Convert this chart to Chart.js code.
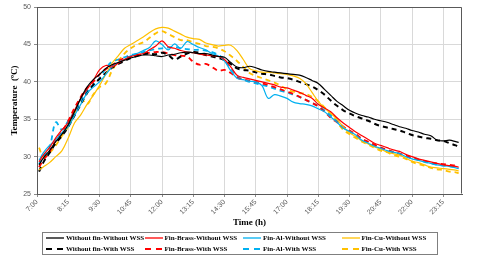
<!DOCTYPE html>
<html><head><meta charset="utf-8">
<script src="https://cdn.jsdelivr.net/npm/chart.js@4/dist/chart.umd.min.js"></script>
<style>
html,body{margin:0;padding:0;background:#fff;}
#wrap{position:relative;width:480px;height:259px;overflow:hidden;}
#c{position:absolute;left:0;top:0;}
#legendBox{position:absolute;left:42px;top:232px;width:396px;height:23px;border:1px solid #7f7f7f;box-sizing:border-box;}
.item{position:absolute;height:10px;display:flex;align-items:center;font:bold 7px "Liberation Serif",serif;white-space:nowrap;color:#000;}
.item svg{margin-right:2px;}
</style></head><body>
<div id="wrap"><canvas id="c" width="480" height="259"></canvas><div id="legendBox"></div></div>
<script>
// time of day in minutes after midnight
const TIMES = [425,435,450,465,480,495,510,525,540,555,570,585,600,615,630,645,660,675,690,705,720,735,750,765,780,795,810,825,840,855,870,885,900,915,930,945,960,975,990,1005,1020,1035,1050,1065,1080,1095,1110,1125,1140,1155,1170,1185,1200,1215,1230,1245,1260,1275,1290,1305,1320,1335,1350,1365,1380,1395,1410,1425,1432];

const TICK_VALUES = [420,495,570,645,720,795,870,945,1020,1095,1170,1245,1320,1395];
const TICK_LABELS = ["7:00","8:15","9:30","10:45","12:00","13:15","14:30","15:45","17:00","18:15","19:30","20:45","22:00","23:15"];

const NAMES = ["Without fin-Without WSS","Fin-Brass-Without WSS","Fin-Al-Without WSS","Fin-Cu-Without WSS",
               "Without fin-With WSS","Fin-Brass-With WSS","Fin-Al-With WSS","Fin-Cu-With WSS"];

const WITHOUT_FIN_WITHOUT_WSS = [28.9,29.8,30.8,32.0, 33.0,34.3,36.0,37.8, 39.3,40.3,41.0,41.8, 42.3,42.6,42.9,43.2,
 43.4,43.6,43.6,43.5, 43.4,43.6,43.7,43.9, 44.0,43.9,43.8,43.8, 43.6,43.4,43.3,42.6, 42.0,41.9,42.1,41.9,
 41.6,41.4,41.3,41.2, 41.1,41.0,40.9,40.6, 40.2,39.8,39.0,38.2, 37.4,36.8,36.2,35.8, 35.5,35.3,35.0,34.8,
 34.6,34.3,34.0,33.8, 33.5,33.3,33.0,32.8, 32.2,32.1,32.2,32.0, 31.9];
const WITHOUT_FIN_WITH_WSS = [28.0,29.2,30.5,31.8, 32.8,34.0,35.5,37.0, 38.5,39.6,40.4,41.2, 41.9,42.4,42.8,43.2,
 43.5,43.7,43.8,43.7, 43.9,43.6,43.0,43.4, 43.8,44.0,43.9,43.6, 43.4,43.2,42.9,42.4, 41.8,41.6,41.5,41.3,
 41.1,41.0,40.8,40.6, 40.5,40.3,40.0,39.7, 39.4,38.9,38.3,37.5, 36.8,36.2,35.8,35.4, 35.1,34.8,34.4,34.1,
 33.9,33.7,33.5,33.2, 32.9,32.7,32.5,32.4, 32.2,32.1,31.8,31.5, 31.3];
const BRASS_WITHOUT_WSS = [29.3,30.2,31.2,32.5, 33.6,34.6,36.2,37.8, 39.0,40.2,41.6,42.2, 42.0,42.5,43.0,43.4,
 43.6,43.8,44.3,44.8, 45.5,44.7,44.5,44.2, 44.0,43.9,43.7,43.6, 43.5,43.4,43.0,42.0, 40.9,40.6,40.4,40.2,
 40.0,39.8,39.6,39.3, 39.2,38.9,38.6,38.2, 37.8,37.0,36.5,36.0, 35.2,34.5,33.9,33.3, 32.8,32.3,31.8,31.5,
 31.2,30.9,30.7,30.3, 30.0,29.7,29.5,29.3, 29.1,28.9,28.8,28.7, 28.6];
const BRASS_WITH_WSS = [28.6,29.5,30.6,32.2, 33.3,34.8,36.5,38.0, 39.2,40.0,41.0,41.7, 42.2,42.8,43.2,43.4,
 43.6,43.8,43.9,44.0, 44.0,43.8,43.6,43.5, 43.4,42.7,42.3,42.4, 42.0,41.5,41.6,41.2, 40.6,40.3,40.2,40.0,
 39.8,39.6,39.3,39.0, 38.7,38.4,38.0,37.6, 37.2,36.7,36.0,35.2, 34.6,34.0,33.5,33.0, 32.4,32.0,31.6,31.2,
 30.9,30.6,30.4,30.1, 29.8,29.6,29.4,29.2, 29.1,29.0,28.9,28.8, 28.8];
const AL_WITHOUT_WSS = [29.5,30.5,31.5,32.3, 33.2,34.0,35.5,37.0, 38.5,39.3,40.0,41.0, 42.0,42.6,43.0,43.5,
 43.8,44.2,44.6,45.5, 45.0,44.3,45.1,44.5, 45.4,45.0,44.6,44.3, 43.8,43.5,42.8,41.5, 40.5,40.3,40.1,40.0,
 39.5,37.8,38.3,38.1, 37.8,37.3,37.1,37.0, 36.8,36.4,36.0,35.3, 34.6,33.8,33.4,32.9, 32.2,31.8,31.4,31.1,
 30.8,30.6,30.4,30.0, 29.7,29.5,29.3,29.1, 28.9,28.8,28.7,28.5, 28.4];
const AL_WITH_WSS = [29.0,30.0,31.2,34.6, 33.6,34.8,36.0,37.5, 38.8,39.6,40.5,41.8, 42.7,43.0,43.3,43.6,
 43.8,44.0,44.2,44.4, 44.5,44.6,44.7,44.5, 44.4,44.3,44.3,44.2, 44.0,43.6,43.0,41.8, 40.8,40.3,40.0,39.8,
 39.6,39.4,39.1,38.8, 38.6,38.3,38.0,37.6, 37.2,36.8,36.2,35.5, 34.8,34.0,33.4,32.8, 32.3,31.9,31.5,31.2,
 30.9,30.6,30.4,30.1, 29.8,29.6,29.3,29.1, 28.9,28.8,28.7,28.6, 28.5];
const CU_WITHOUT_WSS = [28.2,28.6,29.2,30.0, 30.8,32.5,34.5,35.6, 37.0,38.2,39.5,41.0, 42.5,43.5,44.5,45.0,
 45.5,46.0,46.6,47.1, 47.3,47.2,46.8,46.4, 46.0,45.8,45.7,45.2, 45.0,44.8,44.9,44.9, 44.2,43.0,41.8,41.5,
 41.3,41.3,41.2,41.1, 41.0,40.8,40.5,39.8, 38.6,37.4,36.5,35.8, 35.0,34.0,33.2,32.7, 32.1,31.7,31.3,31.0,
 30.6,30.4,30.2,29.8, 29.4,29.2,28.9,28.6, 28.5,28.4,28.3,28.2, 28.1];
const CU_WITH_WSS = [31.2,30.0,30.5,31.5, 32.8,34.0,35.8,37.8, 37.0,38.3,39.3,39.8, 41.5,42.8,43.8,44.5,
 45.0,45.3,45.9,46.5, 46.8,46.4,46.0,45.6, 45.6,45.3,45.1,44.8, 44.7,44.5,44.1,43.5, 42.8,42.0,41.2,40.8,
 40.5,40.2,39.9,39.5, 39.0,38.7,38.5,38.4, 38.0,37.4,36.6,35.7, 34.6,33.6,33.0,32.5, 32.0,31.6,31.2,30.8,
 30.6,30.2,30.0,29.7, 29.3,29.0,28.8,28.5, 28.3,28.2,28.0,27.9, 27.8];

const SERIES = [WITHOUT_FIN_WITHOUT_WSS, BRASS_WITHOUT_WSS, AL_WITHOUT_WSS, CU_WITHOUT_WSS,
                WITHOUT_FIN_WITH_WSS, BRASS_WITH_WSS, AL_WITH_WSS, CU_WITH_WSS];
const COLORS = ["#000000","#ff0000","#00b0f0","#ffc000","#000000","#ff0000","#00b0f0","#ffc000"];
const DASHED = [false,false,false,false,true,true,true,true];

const datasets = SERIES.map((vals, i) => ({
  label: NAMES[i],
  data: TIMES.map((t, j) => ({x: t, y: vals[j]})),
  borderColor: COLORS[i],
  backgroundColor: COLORS[i],
  borderWidth: DASHED[i] ? (i === 4 ? 2 : 1.8) : 1.2,
  borderDash: DASHED[i] ? [5, 4] : [],
  pointRadius: 0,
  tension: 0.35,
  fill: false
}));

function fmt(v) {
  const i = TICK_VALUES.indexOf(v);
  return i >= 0 ? TICK_LABELS[i] : '';
}

const framePlugin = {
  id: 'frame',
  afterDatasetsDraw(chart) {
    const {ctx, chartArea: a} = chart;
    ctx.save();
    ctx.strokeStyle = '#595959';
    ctx.lineWidth = 1;
    ctx.beginPath();
    const l = Math.round(a.left) + 0.5, r = Math.round(a.right) - 0.5, t = Math.round(a.top) + 0.5, b = Math.round(a.bottom) - 0.5;
    ctx.moveTo(l, t); ctx.lineTo(r, t); ctx.lineTo(r, b);
    ctx.stroke();
    ctx.restore();
  }
};

new Chart(document.getElementById('c'), {
  type: 'line',
  data: { datasets },
  options: {
    responsive: false,
    animation: false,
    devicePixelRatio: 1,
    layout: { padding: { left: 0, right: 18, top: 5, bottom: 29 } },
    plugins: { legend: { display: false }, tooltip: { enabled: false } },
    scales: {
      x: {
        type: 'linear',
        min: 420, max: 1440,
        afterBuildTicks: s => { s.ticks = TICK_VALUES.map(v => ({value: v})); },
        afterFit: s => { s.height = 36; },
        ticks: {
          callback: v => fmt(v),
          minRotation: 45, maxRotation: 45, autoSkip: false,
          color: '#595959', padding: 1,
          font: { family: 'Liberation Sans', size: 7 }
        },
        grid: { color: '#d9d9d9', lineWidth: 1, tickLength: 3, tickColor: '#8c8c8c' },
        border: { color: '#595959', width: 1 },
        title: { display: true, text: 'Time (h)', color: '#000',
                 font: { family: 'Liberation Serif', size: 9, weight: 'bold' }, padding: { top: 0, bottom: 2 } }
      },
      y: {
        min: 25, max: 50,
        ticks: { stepSize: 5, color: '#595959', padding: 3,
                 font: { family: 'Liberation Sans', size: 7 } },
        afterFit: s => { s.width = 37; },
        grid: { color: '#d9d9d9', lineWidth: 1, tickLength: 3, tickColor: '#8c8c8c' },
        border: { color: '#595959', width: 1 },
        title: { display: true, text: 'Temperature  (ºC)', color: '#000',
                 font: { family: 'Liberation Serif', size: 9, weight: 'bold' }, padding: { top: 9, bottom: 0 } }
      }
    }
  },
  plugins: [framePlugin]
});

// HTML legend built from the dataset names/styles
const wrap = document.getElementById('wrap');
const colX = [46, 144.5, 243, 341.5];
const rowY = [233, 244];
NAMES.forEach((name, i) => {
  const col = i % 4, row = Math.floor(i / 4);
  const d = document.createElement('div');
  d.className = 'item';
  d.style.left = colX[col] + 'px';
  d.style.top = rowY[row] + 'px';
  const w = DASHED[i] ? 2 : 1.3;
  const dash = DASHED[i] ? ' stroke-dasharray="6 5"' : '';
  d.innerHTML = '<svg width="18" height="6"><line x1="0" y1="3" x2="18" y2="3" stroke="' + COLORS[i] +
    '" stroke-width="' + w + '"' + dash + '/></svg><span>' + name + '</span>';
  wrap.appendChild(d);
});
</script>
</body></html>
